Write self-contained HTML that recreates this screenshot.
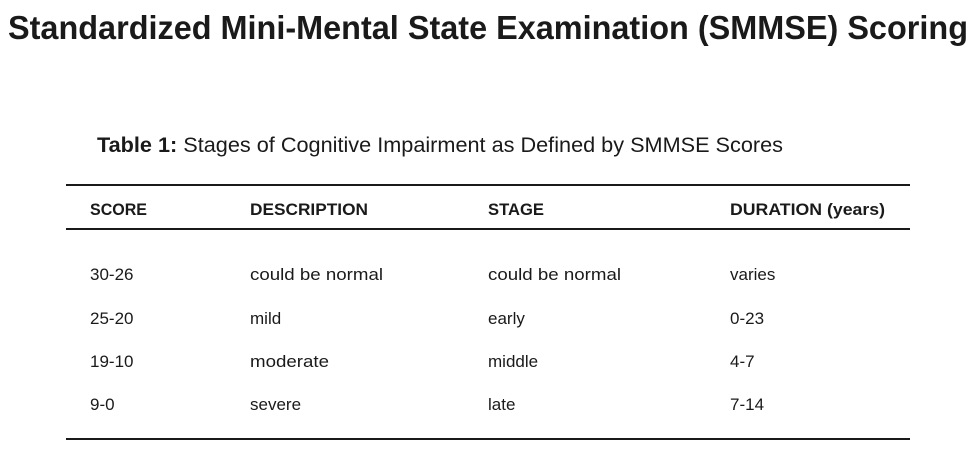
<!DOCTYPE html>
<html><head><meta charset="utf-8"><style>
html,body{margin:0;padding:0;background:#fff}
svg{display:block;font-family:"Liberation Sans",sans-serif;fill:#1a1a1a}
</style></head><body>
<svg width="975" height="449" viewBox="0 0 975 449">
<text x="8" y="39" font-size="33" font-weight="bold" textLength="960" lengthAdjust="spacingAndGlyphs">Standardized Mini-Mental State Examination (SMMSE) Scoring</text>
<text x="97" y="152" font-size="21" textLength="686" lengthAdjust="spacingAndGlyphs"><tspan font-weight="bold">Table 1:</tspan> Stages of Cognitive Impairment as Defined by SMMSE Scores</text>
<rect x="66" y="184" width="844" height="2" fill="#1a1a1a"/>
<rect x="66" y="228" width="844" height="2" fill="#1a1a1a"/>
<rect x="66" y="438" width="844" height="2" fill="#1a1a1a"/>
<g font-size="17" font-weight="bold">
<text x="90" y="215" textLength="57" lengthAdjust="spacingAndGlyphs">SCORE</text>
<text x="250" y="215" textLength="118" lengthAdjust="spacingAndGlyphs">DESCRIPTION</text>
<text x="488" y="215" textLength="56" lengthAdjust="spacingAndGlyphs">STAGE</text>
<text x="730" y="215" textLength="155" lengthAdjust="spacingAndGlyphs">DURATION (years)</text>
</g>
<g font-size="17">
<text x="90" y="280">30-26</text>
<text x="250" y="280" textLength="133" lengthAdjust="spacingAndGlyphs">could be normal</text>
<text x="488" y="280" textLength="133" lengthAdjust="spacingAndGlyphs">could be normal</text>
<text x="730" y="280">varies</text>
<text x="90" y="324">25-20</text>
<text x="250" y="324">mild</text>
<text x="488" y="324">early</text>
<text x="730" y="324">0-23</text>
<text x="90" y="367">19-10</text>
<text x="250" y="367" textLength="79" lengthAdjust="spacingAndGlyphs">moderate</text>
<text x="488" y="367">middle</text>
<text x="730" y="367">4-7</text>
<text x="90" y="410">9-0</text>
<text x="250" y="410">severe</text>
<text x="488" y="410">late</text>
<text x="730" y="410">7-14</text>
</g>
</svg>
</body></html>
